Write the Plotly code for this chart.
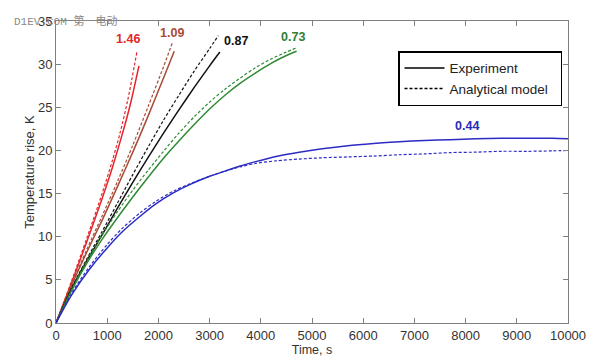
import plotly.graph_objects as go

# ---- data ----
red_exp_t = [0, 300, 600, 900, 1100, 1300, 1450, 1620]
red_exp_T = [0, 4.6, 9.4, 14.4, 18.0, 22.0, 25.3, 29.8]
red_mod_t = [0, 300, 600, 900, 1100, 1250, 1400, 1580]
red_mod_T = [0, 4.8, 9.8, 15.0, 18.8, 22.0, 25.8, 31.4]

brown_exp_t = [0, 300, 600, 900, 1200, 1500, 1800, 2100, 2310]
brown_exp_T = [0, 4.3, 8.2, 11.9, 15.8, 19.8, 24.0, 28.4, 31.5]
brown_mod_t = [0, 300, 600, 900, 1200, 1500, 1800, 2100, 2280]
brown_mod_T = [0, 4.4, 8.5, 12.4, 16.4, 20.6, 25.1, 29.7, 32.6]

black_exp_t = [0, 300, 600, 900, 1200, 1500, 1800, 2100, 2400, 2700, 3000, 3200]
black_exp_T = [0, 3.9, 7.2, 10.2, 13.3, 16.3, 19.2, 22.0, 24.7, 27.3, 29.8, 31.4]
black_mod_t = [0, 300, 600, 900, 1200, 1500, 1800, 2100, 2400, 2700, 3000, 3170]
black_mod_T = [0, 4.0, 7.4, 10.6, 13.9, 17.2, 20.4, 23.5, 26.4, 29.2, 31.8, 33.3]

green_exp_t = [0, 300, 600, 900, 1200, 1500, 1800, 2100, 2400, 2700, 3000, 3300, 3600, 3900, 4200, 4500, 4700]
green_exp_T = [0, 3.7, 6.9, 9.7, 12.2, 14.6, 16.9, 19.1, 21.1, 23.0, 24.8, 26.4, 27.8, 29.0, 30.1, 31.0, 31.5]
green_mod_t = [0, 300, 600, 900, 1200, 1500, 1800, 2100, 2400, 2700, 3000, 3300, 3600, 3900, 4200, 4500, 4700]
green_mod_T = [0, 3.8, 7.2, 10.2, 12.9, 15.4, 17.7, 19.9, 22.0, 23.9, 25.6, 27.1, 28.4, 29.6, 30.6, 31.4, 31.9]

blue_t = [0, 300, 650, 1000, 1300, 1650, 1950, 2300, 2600, 3000, 3300, 3600, 3900,
          4300, 4750, 5200, 5700, 6200, 6700, 7200, 7700, 8200, 8700, 9200, 9700, 10000]
blue_exp_T = [0, 3.2, 6.2, 8.7, 10.6, 12.4, 13.8, 15.1, 16.0, 17.0, 17.6, 18.2, 18.7,
              19.3, 19.8, 20.2, 20.55, 20.8, 21.0, 21.15, 21.25, 21.35, 21.4, 21.4, 21.4, 21.35]
blue_mod_T = [0, 3.4, 6.5, 9.1, 11.0, 12.8, 14.1, 15.3, 16.1, 17.0, 17.6, 18.1, 18.5,
              18.8, 19.0, 19.15, 19.25, 19.35, 19.5, 19.6, 19.75, 19.8, 19.9, 19.9, 19.95, 20.0]

label_texts = ["1.46", "1.09", "0.87", "0.73", "0.44"]
label_t = [1406, 2266, 3506, 4629, 8037]
label_T = [32.9, 33.6, 32.7, 33.1, 22.8]

x_ticks = list(range(0, 10001, 1000))
x_ticktext = [str(v) for v in x_ticks]
y_ticks = list(range(0, 36, 5))

RED, BROWN, BLACK, GREEN, BLUE = "#e3262b", "#a84a36", "#111111", "#2f8a33", "#2c2cc4"
label_colors = ["#e0282d", "#a84a36", "#111111", "#2f7d32", "#2a2ab8"]

series = [
    (red_exp_t, red_exp_T, red_mod_t, red_mod_T, RED),
    (brown_exp_t, brown_exp_T, brown_mod_t, brown_mod_T, BROWN),
    (black_exp_t, black_exp_T, black_mod_t, black_mod_T, BLACK),
    (green_exp_t, green_exp_T, green_mod_t, green_mod_T, GREEN),
    (blue_t, blue_exp_T, blue_t, blue_mod_T, BLUE),
]

fig = go.Figure()
for et, eT, mt, mT, col in series:
    fig.add_trace(go.Scatter(x=mt, y=mT, mode="lines", showlegend=False,
                             line=dict(color=col, width=1.2, dash="3px,2px", shape="spline", smoothing=0.8)))
    fig.add_trace(go.Scatter(x=et, y=eT, mode="lines", showlegend=False,
                             line=dict(color=col, width=1.5, shape="spline", smoothing=0.8)))

fig.add_trace(go.Scatter(x=[None], y=[None], mode="lines", name="Experiment",
                         line=dict(color="black", width=1.6)))
fig.add_trace(go.Scatter(x=[None], y=[None], mode="lines", name="Analytical model\u00a0\u00a0",
                         line=dict(color="black", width=1.6, dash="3px,2px")))

for txt, t, T, c in zip(label_texts, label_t, label_T, label_colors):
    fig.add_annotation(x=t, y=T, text="<b>%s</b>" % txt, showarrow=False,
                       font=dict(family="Liberation Sans, Arial", size=12.5, color=c))

fig.add_annotation(xref="paper", yref="paper", x=-0.086, y=1.0, xanchor="left", yanchor="middle",
                   text="D1EV.COM 第一电动", showarrow=False,
                   font=dict(family="Liberation Mono, Noto Sans CJK SC", size=11, color="#8a8a8a"))

axis_common = dict(showline=True, linecolor="#7f7f7f", linewidth=1, mirror="ticks",
                   ticks="inside", ticklen=5, tickcolor="#7f7f7f", showgrid=False, zeroline=False,
                   automargin=False,
                   tickfont=dict(family="Liberation Sans, Arial", size=13, color="#333333"))

fig.update_xaxes(range=[0, 10000], tickvals=x_ticks, ticktext=x_ticktext,
                 title=dict(text="Time, s", standoff=1,
                            font=dict(family="Liberation Sans, Arial", size=12.5, color="#333333")),
                 **axis_common)
fig.update_yaxes(range=[0, 35], tickvals=y_ticks,
                 title=dict(text="Temperature rise, K", standoff=0,
                            font=dict(family="Liberation Sans, Arial", size=13, color="#333333")),
                 **axis_common)

# the page body adds an 8px offset, so margins are shifted to compensate
fig.update_layout(
    width=600, height=361,
    margin=dict(l=48, r=40, t=13, b=46, autoexpand=False),
    paper_bgcolor="white", plot_bgcolor="white",
    legend=dict(x=0.668, y=0.9, xanchor="left", yanchor="top", itemwidth=40,
                bordercolor="black", borderwidth=1.5, bgcolor="white",
                font=dict(family="Liberation Sans, Arial", size=13.5, color="#222222")),
)

fig.write_html("out.html")
